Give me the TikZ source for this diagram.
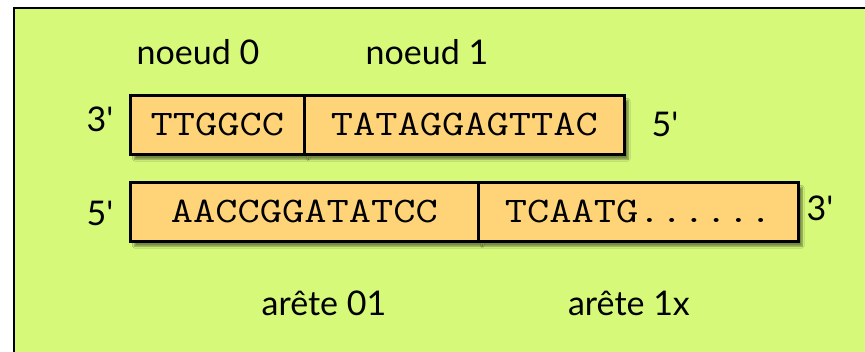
\documentclass[tikz,border=0pt]{standalone}
\usepackage{fontspec}
\setmonofont{Latin Modern Mono}[FakeStretch=1.2]
\newfontfamily\lblfont{Lato}
\usetikzlibrary{shadows.blur}
\definecolor{bggreen}{RGB}{214,249,122}
\definecolor{segorange}{RGB}{255,212,121}
\tikzset{
  seg/.style={draw=black, line width=2.6pt, fill=segorange, rectangle,
    minimum height=59pt, inner sep=0pt, anchor=north west,
    font=\ttfamily\fontsize{36}{40}\selectfont,
    blur shadow={shadow xshift=4pt, shadow yshift=-5pt, shadow blur steps=6, shadow opacity=45}},
  lbl/.style={anchor=base, inner sep=0pt, font=\lblfont\fontsize{34}{38}\selectfont},
}
\begin{document}
\begin{tikzpicture}[x=1pt,y=-1pt]
\useasboundingbox (0,0) rectangle (865,352);
\clip (0,0) rectangle (865,352);
\fill[white] (0,0) rectangle (865,352);
\draw[line width=2.8pt, fill=bggreen] (14,8) rectangle (885,372);
% labels
\node[lbl] (l0) at (198,65) {noeud 0};
\node[lbl] (l1) at (427,65) {noeud 1};
\node[lbl] (a01) at (324,316) {arête 01};
\node[lbl] (a1x) at (629,316) {arête 1x};
% top row
\node[seg, minimum width=174pt] (n0) at (129,94) {TTGGCC};
\node[seg, minimum width=320pt] (n1) at (303,94) {TATAGGAGTTAC};
\node[lbl] (t3) at (100,132) {3'};
\node[lbl] (t5) at (665,137) {5'};
% bottom row
\node[seg, minimum width=348pt] (e01) at (129,181) {AACCGGATATCC};
\node[seg, minimum width=320pt] (e1x) at (477,181) {TCAATG......};
\node[lbl] (b5) at (100,226) {5'};
\node[lbl] (b3) at (820,221) {3'};
\end{tikzpicture}
\end{document}
